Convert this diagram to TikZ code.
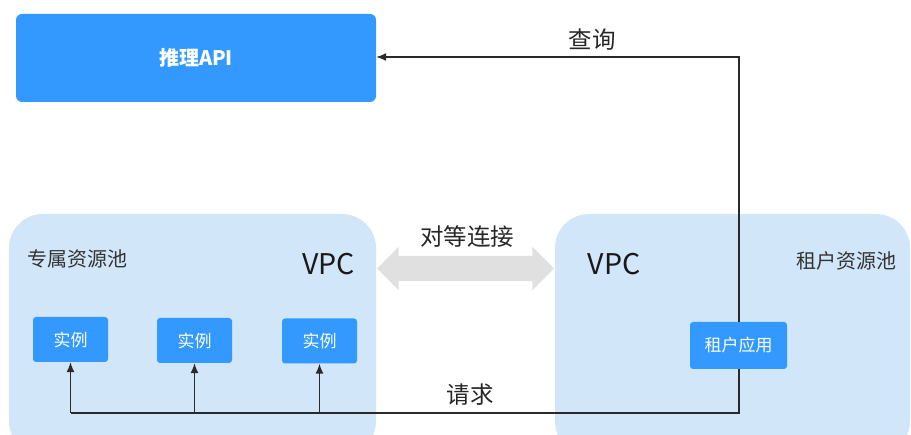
\documentclass[tikz,border=0pt]{standalone}
\usepackage{fontspec}
\setmainfont{Noto Sans CJK SC}
\usetikzlibrary{arrows.meta,shapes.arrows}
\definecolor{boxblue}{HTML}{3399FF}
\definecolor{poolblue}{HTML}{D1E6F9}
\definecolor{peergray}{HTML}{E0E0E0}
\definecolor{linegray}{HTML}{2A2A2A}
\tikzset{
  pool/.style={fill=poolblue, draw=none, rounded corners=34pt},
  inst/.style={fill=boxblue, draw=none, rounded corners=3pt, text=white, font=\fontsize{17}{17}\selectfont, minimum width=75pt, minimum height=45pt, inner sep=0pt},
  conn/.style={draw=linegray, line width=1.4pt, -{Latex[length=10pt,width=8pt]}},
  plain/.style={draw=linegray, line width=1.4pt},
  lbl/.style={text=black!85, font=\fontsize{23.5}{23.5}\selectfont, inner sep=0pt},
  small/.style={text=black!80, font=\fontsize{20}{20}\selectfont, inner sep=0pt},
  vpc/.style={text=black!90, font=\fontsize{28.5}{28.5}\selectfont, inner sep=0pt}
}
\begin{document}
\begin{tikzpicture}[x=1pt,y=-1pt]
\useasboundingbox (0,0) rectangle (911,435);
\clip (0,0) rectangle (911,435);
% pools
\path[pool] (9,214) rectangle (376,455);
\path[pool] (555,214) rectangle (910,455);
% API box
\node[fill=boxblue, rounded corners=6pt, minimum width=360pt, minimum height=88pt, inner sep=0pt, text=white, font=\fontsize{20}{20}\selectfont\bfseries] (api) at (196,58) {推理API};
% peer arrow
\node[double arrow, fill=peergray, draw=none, inner xsep=0pt, inner ysep=12.5pt, double arrow head extend=9pt, double arrow tip angle=90, minimum height=177pt, shape border rotate=0] (peer) at (465.5,268.5) {};
\node[lbl] (peerlbl) at (467,237) {对等连接};
% labels
\node[small] (pool1) at (77.5,258.5) {专属资源池};
\node[small] (pool2) at (846.5,261) {租户资源池};
\node[vpc] (vpc1) at (328.5,264) {VPC};
\node[vpc] (vpc2) at (614,264) {VPC};
% instances
\node[inst] (i1) at (70.5,339.5) {实例};
\node[inst] (i2) at (194.5,340.5) {实例};
\node[inst] (i3) at (319.5,341) {实例};
\node[inst, minimum width=97pt, minimum height=47pt] (app) at (738.5,345.5) {租户应用};
% connectors
\coordinate (q) at (739,57);
\coordinate (b0) at (739,413);
\coordinate (b1) at (70.5,413);
\coordinate (b2) at (194.5,413);
\coordinate (b3) at (319.5,413);
\draw[conn] (app.north -| q) -- (q) -- (api.east |- q);
\draw[plain] (app.south -| b0) -- (b0) -- (b1);
\draw[conn] (b1) -- (i1.south);
\draw[conn] (b2) -- (i2.south);
\draw[conn] (b3) -- (i3.south);
\node[lbl] (qlbl) at (592,40) {查询};
\node[lbl] (rlbl) at (470,395) {请求};
\end{tikzpicture}
\end{document}
